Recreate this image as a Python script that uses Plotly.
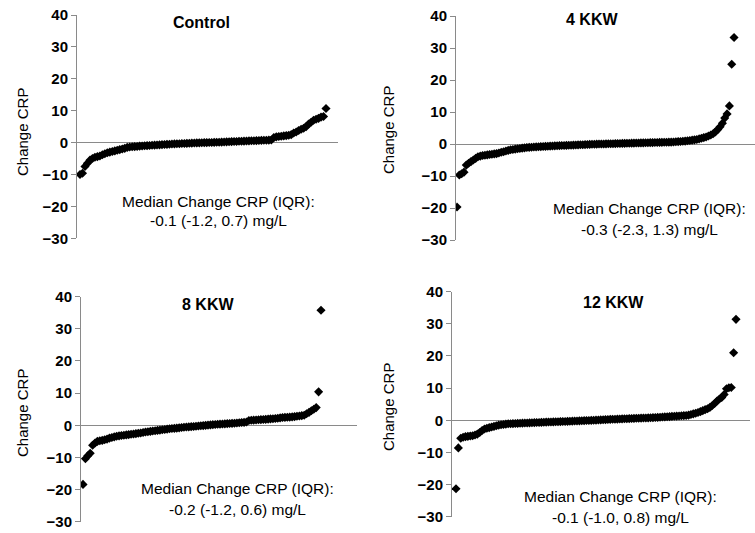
import plotly.graph_objects as go

# ---- data (values are sorted change in CRP, mg/L) ----
panel_titles = ["Control", "4 KKW", "8 KKW", "12 KKW"]
summary_line1 = "Median Change CRP (IQR):"
summary_values = ["-0.1 (-1.2, 0.7) mg/L", "-0.3 (-2.3, 1.3) mg/L",
                  "-0.2 (-1.2, 0.6) mg/L", "-0.1 (-1.0, 0.8) mg/L"]
y_ticks = [-30, -20, -10, 0, 10, 20, 30, 40]
y_title = "Change CRP"

control = [-10.0, -9.6, -7.5, -6.5, -5.5, -5.0, -4.6, -4.4, -4.2, -3.8,
           -3.5, -3.2, -3.0, -2.8, -2.6, -2.4, -2.2, -2.0, -1.8,
           -1.5, -1.4, -1.3, -1.25, -1.2, -1.1, -1.05, -1.0, -0.95, -0.9,
           -0.85, -0.8, -0.75, -0.7, -0.65, -0.6, -0.55, -0.5, -0.45, -0.4,
           -0.38, -0.35, -0.3, -0.27, -0.24, -0.2, -0.17, -0.14, -0.1, -0.08,
           -0.05, -0.02, 0.0, 0.02, 0.05, 0.08, 0.1, 0.13, 0.16, 0.2,
           0.23, 0.26, 0.3, 0.33, 0.36, 0.4, 0.43, 0.46, 0.5, 0.53,
           0.56, 0.6, 0.63, 0.66, 0.7, 0.72, 0.75, 0.78, 0.8,
           1.6, 1.8, 1.9, 2.0, 2.1, 2.2, 2.3, 2.5,
           3.0, 3.3, 3.8, 4.2, 4.5, 5.0,
           5.8, 6.4, 7.0, 7.3, 7.6, 8.0, 8.2, 10.7]

kkw4 = [-19.7, -9.7, -9.3, -8.8, -6.6, -6.0, -5.5, -5.0, -4.5, -4.0,
        -3.8, -3.6, -3.5, -3.4, -3.3, -3.2, -3.1, -3.0, -2.8, -2.6, -2.4,
        -2.2, -2.0, -1.8, -1.7, -1.6, -1.5, -1.4, -1.3, -1.2,
        -1.1, -1.05, -1.0, -0.95, -0.9, -0.86, -0.82, -0.78, -0.74, -0.7,
        -0.66, -0.62, -0.58, -0.55, -0.52, -0.49, -0.46, -0.43, -0.4, -0.37,
        -0.34, -0.31, -0.28, -0.25, -0.22, -0.19, -0.16, -0.13, -0.1, -0.08,
        -0.05, -0.02,
        0.0, 0.02, 0.04, 0.06, 0.08, 0.1, 0.12, 0.14, 0.16, 0.18,
        0.2, 0.22, 0.24, 0.26, 0.28, 0.3, 0.32, 0.34, 0.36, 0.38,
        0.4, 0.42, 0.44, 0.46, 0.48, 0.5, 0.52, 0.54, 0.56, 0.58,
        0.6, 0.62,
        0.7, 0.75, 0.8, 0.85, 0.9, 1.0, 1.1, 1.2, 1.3, 1.4,
        1.6, 1.8, 2.0, 2.2, 2.5, 2.8, 3.2,
        3.8, 4.5, 5.4, 6.5, 8.1,
        9.4, 11.9, 24.9, 33.3]

kkw8 = [-18.4, -10.4, -9.5, -8.7, -6.2, -5.5, -5.0, -4.8,
        -4.7, -4.5, -4.3, -4.0, -3.8, -3.6,
        -3.4, -3.3, -3.2, -3.1, -3.0, -2.9, -2.8, -2.7, -2.6, -2.5, -2.4, -2.25, -2.1,
        -2.0, -1.9, -1.8, -1.7, -1.6, -1.5, -1.4, -1.3, -1.2, -1.1, -1.0, -0.95, -0.9, -0.8,
        -0.7, -0.63, -0.56, -0.5, -0.43, -0.36, -0.3, -0.23, -0.16, -0.1, -0.03, 0.05, 0.12, 0.2,
        0.25, 0.3, 0.35, 0.4, 0.45, 0.5, 0.55, 0.6, 0.65, 0.7, 0.8, 0.85, 0.9, 1.0,
        1.5, 1.55, 1.6, 1.65, 1.7, 1.75, 1.8, 1.85, 1.9, 2.0, 2.05, 2.1, 2.2, 2.3,
        2.4, 2.45, 2.5, 2.55, 2.6, 2.7, 2.8, 2.9, 3.0, 3.1,
        3.6, 4.0, 4.5, 5.0, 5.5,
        10.4, 35.8]

kkw12 = [-21.3, -8.6, -5.6,
         -5.3, -5.1, -5.0, -4.9, -4.8, -4.6, -4.3, -3.8, -3.2, -2.7,
         -2.5, -2.3, -2.1, -1.9, -1.7, -1.5, -1.4, -1.3, -1.2,
         -1.1, -1.07, -1.04, -1.0, -0.97, -0.94, -0.9, -0.87, -0.84, -0.8,
         -0.77, -0.74, -0.7, -0.67, -0.64, -0.6, -0.57, -0.54, -0.52, -0.5, -0.48,
         -0.45, -0.42, -0.39, -0.36, -0.33, -0.3, -0.27, -0.24, -0.21, -0.18,
         -0.15, -0.12, -0.09, -0.06, -0.03, 0.0, 0.04, 0.08, 0.12, 0.16, 0.2,
         0.25, 0.28, 0.31, 0.34, 0.37, 0.4, 0.43, 0.46, 0.49, 0.52,
         0.55, 0.58, 0.61, 0.64, 0.67, 0.7, 0.73, 0.76, 0.79, 0.82, 0.85,
         0.9, 0.95, 1.0, 1.05, 1.1, 1.15, 1.2, 1.25, 1.3, 1.35, 1.4, 1.45, 1.5, 1.6,
         1.8, 2.0, 2.2, 2.4, 2.7, 3.0, 3.3,
         3.6, 4.0, 4.6, 5.2,
         6.0, 6.6, 7.1,
         8.0, 9.8, 10.1, 10.2,
         21.0, 31.4]

series = [control, kkw4, kkw8, kkw12]

# ---- layout geometry (target pixels in the 755x533 window) ----
W, H = 755, 533
FONT = "Liberation Sans, Arial, sans-serif"

def px(x):
    return x / W

def py(y):
    return 1 - y / H

# plot boxes: left, right, top(40), bottom(-30)
boxes = [(77, 338, 15, 238.3), (456, 755, 16, 240),
         (81, 357, 296.7, 521.7), (452, 750, 291.7, 516.7)]
x_ranges = [[-0.21, 104.83], [0.57, 129.0], [0.17, 114.97], [-0.686, 124.9]]
title_pos = [(201, 22), (592, 20), (208, 304), (613, 302)]
ytitle_pos = [(22, 132), (388, 130), (22, 413), (388, 407)]
summary_pos = [(218, 201, 221), (649, 209, 230), (237, 488, 509), (620, 496, 517)]

fig = go.Figure()
annotations = []
for i, vals in enumerate(series):
    n = i + 1
    xa = "x" if n == 1 else f"x{n}"
    ya = "y" if n == 1 else f"y{n}"
    fig.add_trace(go.Scatter(
        x=list(range(1, len(vals) + 1)), y=vals, mode="markers",
        marker=dict(symbol="diamond", size=7, color="black", line=dict(width=0)),
        xaxis=xa, yaxis=ya, showlegend=False, hoverinfo="y"))
    l, r, t, b = boxes[i]
    xkey = "xaxis" if n == 1 else f"xaxis{n}"
    ykey = "yaxis" if n == 1 else f"yaxis{n}"
    fig.layout[xkey] = dict(domain=[px(l), px(r)], range=x_ranges[i],
                            anchor=ya, showgrid=False, zeroline=False,
                            showticklabels=False, showline=False, ticks="",
                            automargin=False)
    fig.layout[ykey] = dict(domain=[py(b), py(t)], range=[-30, 40],
                            anchor=xa, tickvals=y_ticks, ticks="outside",
                            ticklen=5, tickcolor="#8a8a8a", tickwidth=1,
                            showline=True, linecolor="#8a8a8a", linewidth=1,
                            showgrid=False, zeroline=True,
                            zerolinecolor="#8a8a8a", zerolinewidth=1,
                            automargin=False, ticklabeloverflow="allow",
                            tickfont=dict(family=FONT, size=15, color="black",
                                          weight="bold"))
    tx, ty = title_pos[i]
    annotations.append(dict(x=px(tx), y=py(ty), xref="paper", yref="paper",
                            text=panel_titles[i], showarrow=False,
                            xanchor="center", yanchor="middle",
                            font=dict(family=FONT, size=16, color="black",
                                      weight="bold")))
    ax_, ay_ = ytitle_pos[i]
    annotations.append(dict(x=px(ax_), y=py(ay_), xref="paper", yref="paper",
                            text=y_title, showarrow=False, textangle=-90,
                            xanchor="center", yanchor="middle",
                            font=dict(family=FONT, size=15, color="black")))
    sx, s1, s2 = summary_pos[i]
    annotations.append(dict(x=px(sx), y=py(s1), xref="paper", yref="paper",
                            text=summary_line1, showarrow=False,
                            xanchor="center", yanchor="middle",
                            font=dict(family=FONT, size=15.5, color="black")))
    annotations.append(dict(x=px(sx), y=py(s2), xref="paper", yref="paper",
                            text=summary_values[i], showarrow=False,
                            xanchor="center", yanchor="middle",
                            font=dict(family=FONT, size=15.5, color="black")))

fig.update_layout(width=W, height=H, autosize=False,
                  margin=dict(l=0, r=0, t=0, b=0, pad=0, autoexpand=False),
                  paper_bgcolor="white", plot_bgcolor="white",
                  hovermode=False, annotations=annotations)

# remove the browser's default page margin so the 755x533 figure fills the window
fig.write_html("out.html", config={"displayModeBar": False},
               post_script="document.body.style.margin='0px';")
